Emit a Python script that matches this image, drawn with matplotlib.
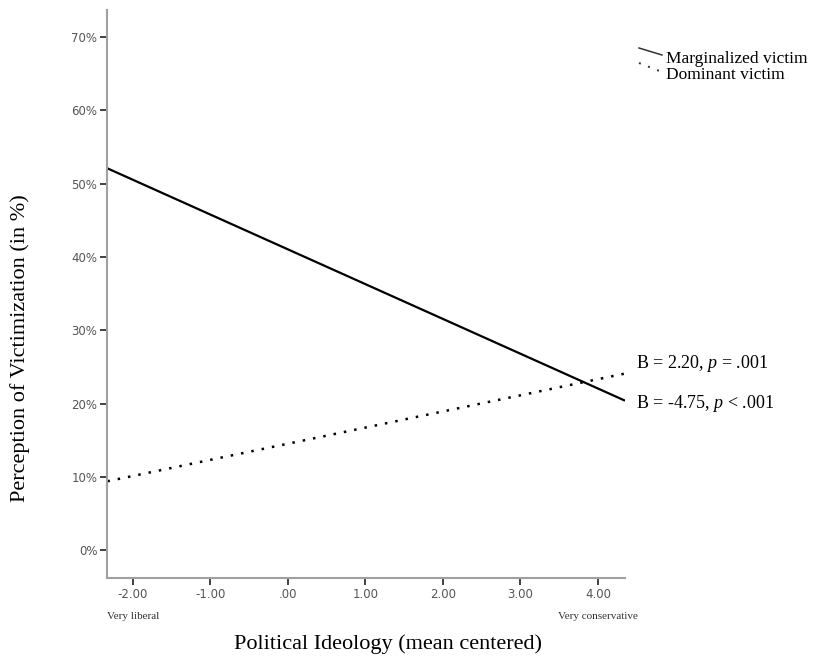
import matplotlib.pyplot as plt
from matplotlib.lines import Line2D

plt.rcParams["mathtext.fontset"] = "custom"
plt.rcParams["mathtext.rm"] = "Liberation Serif"
plt.rcParams["mathtext.it"] = "Liberation Serif:italic"

# ideology range (mean centered) and predicted perception of victimization (%)
ideology = [-2.33, 4.35]
marginalized = [52.1, 20.4]
dominant = [9.4, 24.1]

y_ticks = [0, 10, 20, 30, 40, 50, 60, 70]
x_ticks = [-2, -1, 0, 1, 2, 3, 4]
x_tick_labels = ["-2.00", "-1.00", ".00", "1.00", "2.00", "3.00", "4.00"]

serif = "Liberation Serif"
sans = "DejaVu Sans"
spine_col = "#a0a0a0"
tick_col = "#555555"

fig = plt.figure(figsize=(8.18, 6.6), dpi=100)
ax = fig.add_axes([0.1308, 0.1242, 0.6333, 0.8606])

ax.plot(ideology, marginalized, color="black", lw=1.6, solid_capstyle="butt")
ax.plot(ideology, dominant, color="black", lw=1.8, linestyle=(0, (1, 3.2)))

ax.set_xlim(-2.335, 4.35)
ax.set_ylim(-3.8, 73.7)

ax.set_yticks(y_ticks)
ax.set_yticklabels([f"{v}%" for v in y_ticks])
ax.set_xticks(x_ticks)
ax.set_xticklabels(x_tick_labels)
for lab in ax.get_xticklabels() + ax.get_yticklabels():
    lab.set_family(sans)
    lab.set_fontsize(8.5)
    lab.set_color(tick_col)
ax.tick_params(axis="both", direction="out", length=5, width=1.3, color="#333333", pad=2)

for side in ["top", "right"]:
    ax.spines[side].set_visible(False)
for side in ["left", "bottom"]:
    ax.spines[side].set_color(spine_col)
    ax.spines[side].set_linewidth(1.5)

ax.set_ylabel("Perception of Victimization (in %)", family=serif, fontsize=16)
ax.yaxis.set_label_coords(-0.148, 0.405)
ax.set_xlabel("Political Ideology (mean centered)", family=serif, fontsize=16)
ax.xaxis.set_label_coords(0.543, -0.099)

# end anchors under axis
ax.text(-2, -9.0, "Very liberal", family=serif, fontsize=8, ha="center", va="center", color="#333333")
ax.text(4, -9.0, "Very conservative", family=serif, fontsize=8, ha="center", va="center", color="#333333")

# coefficient labels
fig.text(636 / 818, 1 - 364 / 660, "B = 2.20, $\\it{p}$ = .001", family=serif, fontsize=13, va="center")
fig.text(636 / 818, 1 - 403 / 660, "B = -4.75, $\\it{p}$ < .001", family=serif, fontsize=13, va="center")

# legend drawn like the original (slanted samples)
fig.add_artist(Line2D([639 / 818, 662 / 818], [1 - 48 / 660, 1 - 55 / 660],
                      transform=fig.transFigure, color="#333333", lw=1.1))
fig.add_artist(Line2D([639 / 818, 662 / 818], [1 - 63 / 660, 1 - 72 / 660],
                      transform=fig.transFigure, color="#333333", lw=1.4, linestyle=(0, (1, 4))))
fig.text(666 / 818, 1 - 59 / 660, "Marginalized victim", family=serif, fontsize=12.5, va="center")
fig.text(666 / 818, 1 - 75 / 660, "Dominant victim", family=serif, fontsize=12.5, va="center")

fig.savefig("out.png", dpi=100)
